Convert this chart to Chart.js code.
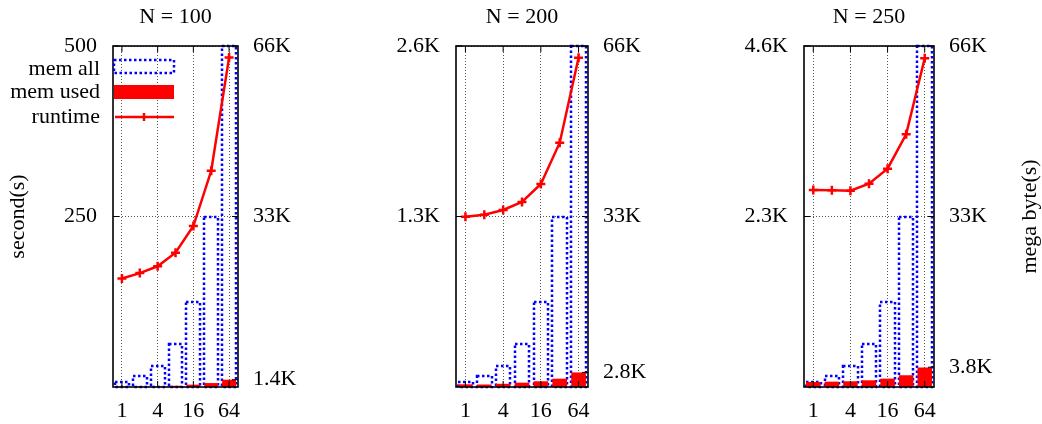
<!DOCTYPE html>
<html>
<head>
<meta charset="utf-8">
<script src="https://cdn.jsdelivr.net/npm/chart.js@4.4.1/dist/chart.umd.min.js"></script>
<style>
  html, body { margin: 0; padding: 0; background: #fff; }
  #wrap { position: relative; width: 1042px; height: 424px; }
  .panel { position: absolute; top: 0; height: 424px; }
</style>
</head>
<body>
<div id="wrap">
  <div class="panel" style="left:0;width:318px"><canvas id="c1"></canvas></div>
  <div class="panel" style="left:318px;width:350px"><canvas id="c2"></canvas></div>
  <div class="panel" style="left:668px;width:374px"><canvas id="c3"></canvas></div>
</div>
<script>
// threads (x axis)
var threads = ['1', '2', '4', '8', '16', '32', '64'];
var xTickLabels = ['1', '4', '16', '64'];
var legendLabels = ['mem all', 'mem used', 'runtime'];

// N = 100
var runtime100 = [159, 167, 177, 197, 236, 317, 483];
var memAll100 = [1024, 2048, 4096, 8192, 16384, 32768, 65536];
var memUsed100 = [40, 50, 70, 230, 450, 760, 1400];
var secTicks100 = [250, 500];
var secLabels100 = ['250', '500'];
var mbTicks100 = [1400, 32768, 65536];
var mbLabels100 = ['1.4K', '33K', '66K'];

// N = 200
var runtime200 = [1298, 1314, 1350, 1411, 1548, 1863, 2511];
var memAll200 = [1024, 2048, 4096, 8192, 16384, 32768, 65536];
var memUsed200 = [520, 480, 620, 830, 1100, 1600, 2800];
var secTicks200 = [1300, 2600];
var secLabels200 = ['1.3K', '2.6K'];
var mbTicks200 = [2800, 32768, 65536];
var mbLabels200 = ['2.8K', '33K', '66K'];

// N = 250
var runtime250 = [2657, 2653, 2648, 2742, 2945, 3409, 4434];
var memAll250 = [1024, 2048, 4096, 8192, 16384, 32768, 65536];
var memUsed250 = [970, 1030, 1100, 1290, 1610, 2260, 3750];
var secTicks250 = [2300, 4600];
var secLabels250 = ['2.3K', '4.6K'];
var mbTicks250 = [3800, 32768, 65536];
var mbLabels250 = ['3.8K', '33K', '66K'];

var RED = '#ff0000';
var BLUE = '#0000ff';
var FONT = "'Liberation Serif', 'Times New Roman', serif";

Chart.defaults.font.family = FONT;
Chart.defaults.font.size = 22;
Chart.defaults.color = '#000';

// blue dotted outline for "mem all" bars, using the bar elements placed by the scales
var dottedBars = {
    id: 'dottedBars',
    afterDatasetDraw: function (chart, args) {
        var ds = chart.data.datasets[args.index];
        if (!ds.dotted) return;
        var ctx = chart.ctx;
        var a = chart.chartArea;
        ctx.save();
        ctx.beginPath();
        ctx.rect(a.left - 2, a.top - 2, a.right - a.left + 4, a.bottom - a.top + 4);
        ctx.clip();
        ctx.strokeStyle = BLUE;
        ctx.lineWidth = 2.5;
        ctx.setLineDash([2.5, 2.5]);
        args.meta.data.forEach(function (bar) {
            var p = bar.getProps(['x', 'y', 'base', 'width'], true);
            var x0 = Math.round(p.x - p.width / 2), x1 = Math.round(p.x + p.width / 2);
            var y0 = Math.round(p.y), y1 = Math.round(p.base);
            ctx.strokeRect(x0, y0, x1 - x0, y1 - y0);
        });
        ctx.restore();
    }
};

// black frame plus inward tick marks (gnuplot style)
var frame = {
    id: 'frame',
    afterDraw: function (chart) {
        var ctx = chart.ctx;
        var a = chart.chartArea;
        ctx.save();
        ctx.strokeStyle = '#000';
        ctx.lineWidth = 1.6;
        ctx.strokeRect(a.left, a.top, a.right - a.left, a.bottom - a.top);
        ctx.lineWidth = 1;
        ctx.beginPath();
        chart.scales.y.ticks.forEach(function (t) {
            var py = chart.scales.y.getPixelForValue(t.value);
            ctx.moveTo(a.left, py); ctx.lineTo(a.left + 6, py);
        });
        chart.scales.y2.ticks.forEach(function (t) {
            var py = chart.scales.y2.getPixelForValue(t.value);
            ctx.moveTo(a.right, py); ctx.lineTo(a.right - 6, py);
        });
        chart.scales.x.ticks.forEach(function (t) {
            var px = chart.scales.x.getPixelForValue(t.value);
            ctx.moveTo(px, a.bottom); ctx.lineTo(px, a.bottom - 6);
            ctx.moveTo(px, a.top); ctx.lineTo(px, a.top + 6);
        });
        ctx.stroke();
        ctx.restore();
    }
};

// panel title centred over the plot area
var panelTitle = {
    id: 'panelTitle',
    afterDraw: function (chart, args, opts) {
        var ctx = chart.ctx;
        var a = chart.chartArea;
        ctx.save();
        ctx.font = '22px ' + FONT;
        ctx.fillStyle = '#000';
        ctx.textAlign = 'center';
        ctx.textBaseline = 'alphabetic';
        ctx.fillText(opts.text, (a.left + a.right) / 2, 22.5);
        ctx.restore();
    }
};

// legend of the first panel (key inside, text to the left)
var keyBox = {
    id: 'keyBox',
    afterDraw: function (chart) {
        var ctx = chart.ctx;
        var a = chart.chartArea;
        var l = a.left, t = a.top;
        ctx.save();
        ctx.font = '22px ' + FONT;
        ctx.fillStyle = '#000';
        ctx.textAlign = 'right';
        ctx.textBaseline = 'alphabetic';
        ctx.fillText(legendLabels[0], l - 13, t + 29);
        ctx.fillText(legendLabels[1], l - 13, t + 52.3);
        ctx.fillText(legendLabels[2], l - 13, t + 77);

        ctx.strokeStyle = BLUE;
        ctx.lineWidth = 2.5;
        ctx.setLineDash([2.5, 2.5]);
        ctx.strokeRect(l + 1, t + 14, 60, 13);
        ctx.setLineDash([]);

        ctx.fillStyle = RED;
        ctx.fillRect(l + 1, t + 39, 60, 14);

        ctx.strokeStyle = RED;
        ctx.lineWidth = 2.5;
        ctx.beginPath();
        ctx.moveTo(l + 2, t + 71); ctx.lineTo(l + 61, t + 71);
        ctx.moveTo(l + 31, t + 67); ctx.lineTo(l + 31, t + 75);
        ctx.stroke();
        ctx.restore();
    }
};

// right axis title, reading bottom to top like the left one
var rightTitle = {
    id: 'rightTitle',
    afterDraw: function (chart) {
        var ctx = chart.ctx;
        var a = chart.chartArea;
        ctx.save();
        ctx.translate(chart.width - 12, (a.top + a.bottom) / 2);
        ctx.rotate(-Math.PI / 2);
        ctx.font = '22px ' + FONT;
        ctx.fillStyle = '#000';
        ctx.textAlign = 'center';
        ctx.textBaseline = 'middle';
        ctx.fillText('mega byte(s)', 0, 0);
        ctx.restore();
    }
};

function makePanel(id, p) {
    return new Chart(document.getElementById(id), {
        data: {
            labels: threads,
            datasets: [{
                type: 'line',
                label: legendLabels[2],
                data: p.runtime,
                yAxisID: 'y',
                borderColor: RED,
                borderWidth: 2.5,
                tension: 0,
                pointStyle: 'cross',
                pointRadius: 4.5,
                pointBorderWidth: 2.5,
                pointBorderColor: RED,
                order: 1
            }, {
                type: 'bar',
                label: legendLabels[1],
                data: p.memUsed,
                yAxisID: 'y2',
                backgroundColor: RED,
                borderWidth: 0,
                grouped: false,
                barPercentage: 0.78,
                categoryPercentage: 1,
                order: 2
            }, {
                type: 'bar',
                label: legendLabels[0],
                data: p.memAll,
                dotted: true,
                yAxisID: 'y2',
                backgroundColor: 'rgba(0,0,0,0)',
                borderWidth: 0,
                grouped: false,
                barPercentage: 0.78,
                categoryPercentage: 1,
                order: 3
            }]
        },
        options: {
            responsive: true,
            maintainAspectRatio: false,
            animation: false,
            layout: { padding: { top: 46 } },
            plugins: {
                legend: { display: false },
                tooltip: { enabled: false },
                title: { display: false },
                panelTitle: { text: p.title }
            },
            scales: {
                x: {
                    type: 'category',
                    offset: true,
                    grid: { offset: false, drawTicks: false, color: '#555', lineWidth: 1 },
                    border: { display: false, dash: [1, 2] },
                    ticks: { autoSkip: false, maxRotation: 0, padding: 11 },
                    afterBuildTicks: function (s) {
                        s.ticks = s.ticks.filter(function (t) {
                            return xTickLabels.indexOf(threads[t.value]) >= 0;
                        });
                    },
                    afterFit: function (s) { s.height = 37; }
                },
                y: {
                    position: 'left',
                    min: 0,
                    max: p.secTicks[p.secTicks.length - 1],
                    grid: { drawTicks: false, color: '#555', lineWidth: 1 },
                    border: { display: false, dash: [1, 2] },
                    ticks: {
                        padding: 16,
                        callback: function (v) { return p.secLabels[p.secTicks.indexOf(v)]; }
                    },
                    afterBuildTicks: function (s) {
                        s.ticks = p.secTicks.map(function (v) { return { value: v }; });
                    },
                    title: {
                        display: !!p.yTitle,
                        text: p.yTitle || '',
                        font: { size: 22, lineHeight: 1 },
                        padding: { top: 7.5, bottom: 0 }
                    },
                    afterFit: function (s) { s.width = p.leftW; }
                },
                y2: {
                    position: 'right',
                    min: 0,
                    max: 65536,
                    grid: { display: false, drawTicks: false },
                    border: { display: false },
                    ticks: {
                        padding: 15,
                        callback: function (v) { return p.mbLabels[p.mbTicks.indexOf(v)]; }
                    },
                    afterBuildTicks: function (s) {
                        s.ticks = p.mbTicks.map(function (v) { return { value: v }; });
                    },
                    afterFit: function (s) { s.width = p.rightW; }
                }
            }
        },
        plugins: [dottedBars, frame, panelTitle].concat(p.extra || [])
    });
}

makePanel('c1', {
    title: 'N = 100', runtime: runtime100, memAll: memAll100, memUsed: memUsed100,
    secTicks: secTicks100, secLabels: secLabels100, mbTicks: mbTicks100, mbLabels: mbLabels100,
    yTitle: 'second(s)', leftW: 113, rightW: 80, extra: [keyBox]
});
makePanel('c2', {
    title: 'N = 200', runtime: runtime200, memAll: memAll200, memUsed: memUsed200,
    secTicks: secTicks200, secLabels: secLabels200, mbTicks: mbTicks200, mbLabels: mbLabels200,
    leftW: 138, rightW: 80
});
makePanel('c3', {
    title: 'N = 250', runtime: runtime250, memAll: memAll250, memUsed: memUsed250,
    secTicks: secTicks250, secLabels: secLabels250, mbTicks: mbTicks250, mbLabels: mbLabels250,
    leftW: 136, rightW: 108, extra: [rightTitle]
});
</script>
</body>
</html>
